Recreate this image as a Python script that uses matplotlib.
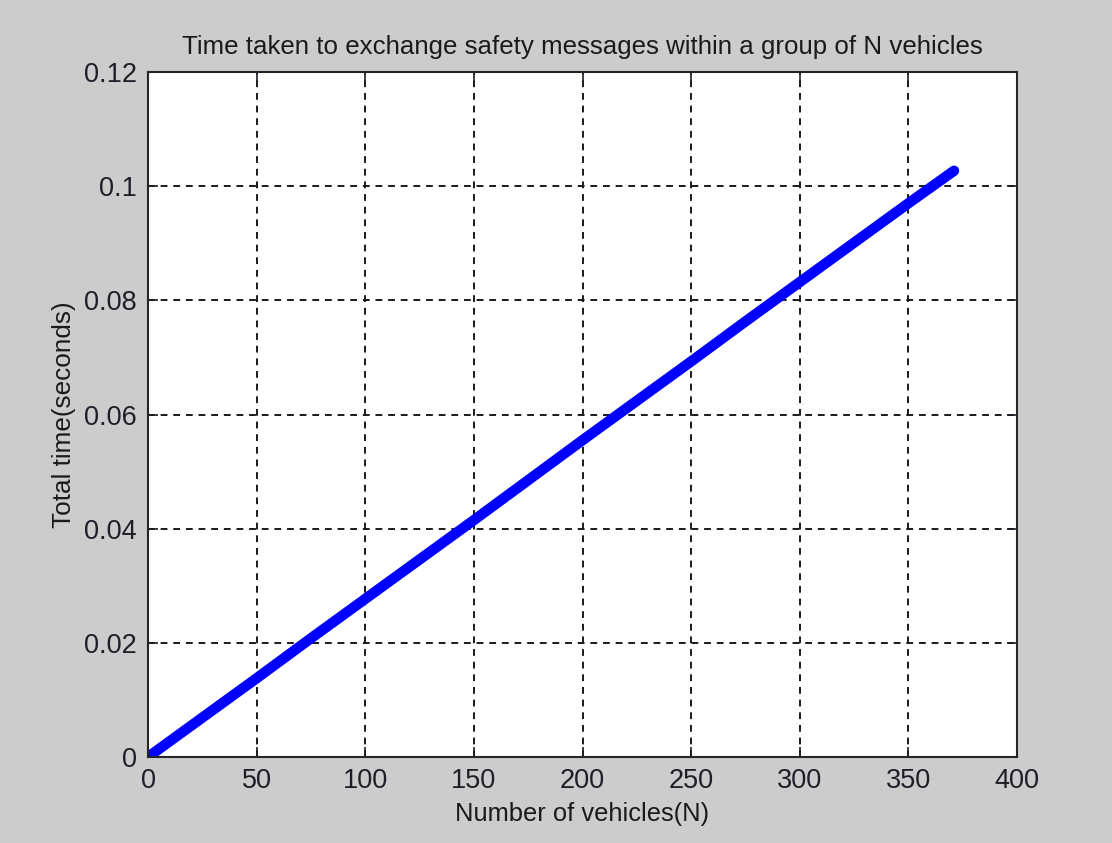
import numpy as np
import matplotlib
matplotlib.use("Agg")
import matplotlib.pyplot as plt

# number of vehicles in the group and measured total exchange time (s)
vehicles = [0, 25, 50, 75, 100, 125, 150, 175, 200, 225, 250, 275, 300, 325, 350, 371]
total_time = [0.0, 0.0069, 0.0138, 0.0208, 0.0277, 0.0346, 0.0415, 0.0485, 0.0555,
              0.0624, 0.0693, 0.0763, 0.0832, 0.0901, 0.0970, 0.1027]

x_ticks = [0, 50, 100, 150, 200, 250, 300, 350, 400]
y_ticks = [0, 0.02, 0.04, 0.06, 0.08, 0.1, 0.12]
y_labels = ["0", "0.02", "0.04", "0.06", "0.08", "0.1", "0.12"]

plt.rcParams["font.family"] = ["Liberation Sans", "DejaVu Sans"]

fig = plt.figure(figsize=(11.12, 8.43), dpi=100, facecolor="#cccccc")
ax = fig.add_axes([0.1331, 0.102, 0.7815, 0.8126])
ax.set_facecolor("white")

ax.plot(vehicles, total_time, color="#0000ff", linewidth=7.5, solid_capstyle="round")

ax.set_xlim(0, 400)
ax.set_ylim(0, 0.12)
ax.set_xticks(x_ticks)
ax.set_yticks(y_ticks)
ax.set_yticklabels(y_labels)
ax.tick_params(direction="in", length=7, width=1.2, top=True, right=True,
               labelsize=19.5, colors="#1e1e28", pad=8)
for s in ax.spines.values():
    s.set_linewidth(1.5)
    s.set_color("#262626")

ax.grid(True, color="#1a1a1a", linestyle=(0, (3.5, 3)), linewidth=1.4)

ax.set_title("Time taken to exchange safety messages within a group of N vehicles",
             fontsize=18.6, color="#1a1a1a", pad=13)
ax.set_xlabel("Number of vehicles(N)", fontsize=18.4, color="#1a1a1a", labelpad=6)
ax.set_ylabel("Total time(seconds)", fontsize=18.8, color="#1a1a1a", labelpad=6)

fig.savefig("out.png", dpi=100, facecolor=fig.get_facecolor())
